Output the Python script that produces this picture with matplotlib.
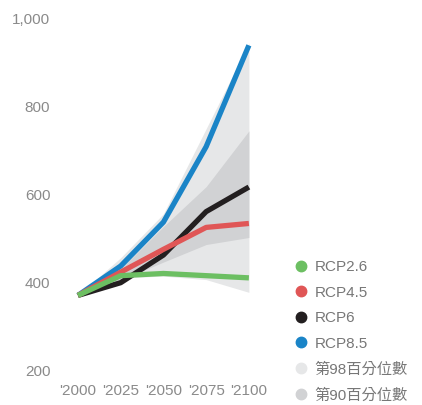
import matplotlib
matplotlib.use('Agg')
from matplotlib import pyplot as plt
from matplotlib.lines import Line2D

plt.rcParams['font.family'] = ['Liberation Sans', 'Noto Sans CJK TC', 'DejaVu Sans']

years = [2000, 2025, 2050, 2075, 2100]
year_labels = ["'2000", "'2025", "'2050", "'2075", "'2100"]

rcp26 = [370, 415, 420, 415, 410]
rcp45 = [370, 423, 475, 525, 534]
rcp6 = [370, 399, 462, 561, 617]
rcp85 = [370, 437, 537, 709, 940]

p98_low = [370, 410, 414, 406, 377]
p98_high = [370, 456, 556, 750, 945]
p90_low = [370, 405, 446, 486, 502]
p90_high = [370, 430, 527, 618, 745]

series = [
    ('RCP2.6', rcp26, '#6cbf62'),
    ('RCP4.5', rcp45, '#e05656'),
    ('RCP6', rcp6, '#231f20'),
    ('RCP8.5', rcp85, '#1a84c7'),
]
band_names = ['第98百分位數', '第90百分位數']
band_colors = ['#e6e7e8', '#d1d2d4']

W, H = 422, 405
fig = plt.figure(figsize=(W / 100, H / 100), dpi=100)
ax = fig.add_axes([60 / W, 1 - 370 / H, 200 / W, 351 / H])

ax.fill_between(years, p98_low, p98_high, color=band_colors[0], lw=0, zorder=1)
ax.fill_between(years, p90_low, p90_high, color=band_colors[1], lw=0, zorder=1.5)

order = {'RCP8.5': 2, 'RCP6': 3, 'RCP4.5': 4, 'RCP2.6': 5}
for name, vals, c in series:
    ax.plot(years, vals, color=c, lw=3.8, solid_capstyle='butt', zorder=order[name])

ax.set_xlim(1989.5, 2106.5)
ax.set_ylim(200, 1000)
ax.set_xticks(years)
ax.set_xticklabels(year_labels)
ax.set_yticks([200, 400, 600, 800, 1000])
ax.set_yticklabels(['200', '400', '600', '800', '1,000'])
ax.tick_params(length=0, labelsize=11, colors='#8a8a8a')
ax.tick_params(axis='x', pad=10)
ax.tick_params(axis='y', pad=7)
for s in ax.spines.values():
    s.set_visible(False)

handles = []
for name, vals, c in series:
    handles.append(Line2D([], [], ls='none', marker='o', ms=7.5, color=c, label=name))
for name, c in zip(band_names, band_colors):
    handles.append(Line2D([], [], ls='none', marker='o', ms=7.5, color=c, label=name))
leg = fig.legend(handles=handles, loc='upper left', bbox_to_anchor=(290 / W, 1 - 260 / H),
                 frameon=False, fontsize=11, labelcolor='#777777', handletextpad=0.1,
                 labelspacing=0.76, handlelength=1.5, borderaxespad=0, borderpad=0)

fig.savefig('out.png', dpi=100)
